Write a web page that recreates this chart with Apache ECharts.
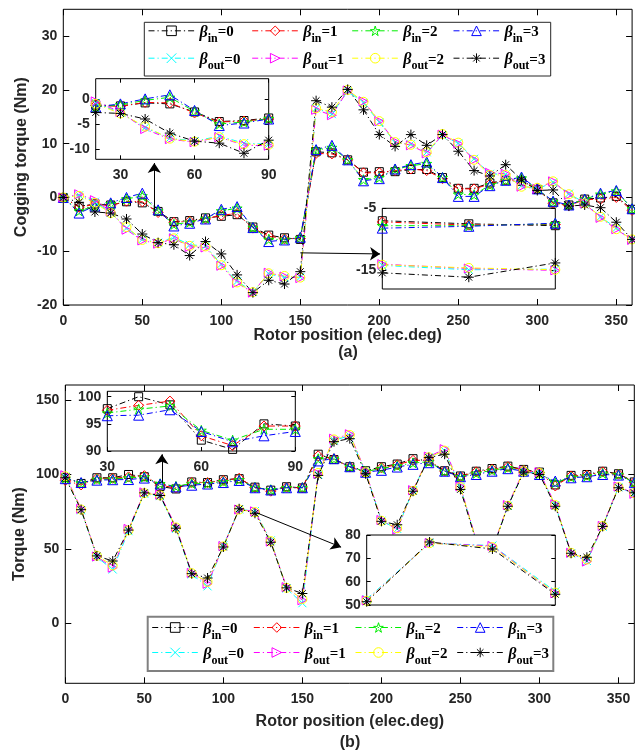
<!DOCTYPE html>
<html>
<head>
<meta charset="utf-8">
<script src="https://cdn.jsdelivr.net/npm/echarts@6/dist/echarts.min.js"></script>
<style>
  html, body { margin: 0; padding: 0; background: #fff; }
  #c { width: 635px; height: 752px; }
</style>
</head>
<body>
<div id="c"></div>
<script>
// Rotor positions (electrical degrees) shared by every curve
const positions = [0,10,20,30,40,50,60,70,80,90,100,110,120,130,140,150,160,170,180,190,200,210,220,230,240,250,260,270,280,290,300,310,320,330,340,350,360];

// (a) Cogging torque (Nm)
const cogIn0 = [0,-1.7,-1.2,-1.4,-0.8,-1.0,-2.6,-4.5,-4.3,-3.8,-3.5,-3.2,-5.5,-7.0,-7.5,-7.8,8.5,8.3,7.0,4.7,4.8,4.8,5.2,5.2,3.7,1.7,1.7,2.7,3.2,3.0,1.5,-1.0,-1.4,-0.3,-0.1,0.2,-2.2];
const cogIn1 = [0,-1.8,-1.3,-1.5,-0.7,-0.8,-2.8,-4.6,-4.4,-4.0,-3.3,-3.0,-5.7,-7.2,-7.7,-7.6,8.2,8.1,7.0,4.6,4.6,5.0,5.3,5.0,3.5,1.6,1.6,2.5,3.3,3.1,1.6,-1.1,-1.5,-0.4,-0.3,0.0,-2.4];
const cogIn2 = [0,-2.5,-1.6,-1.2,-0.3,0.3,-2.5,-5.0,-4.6,-3.9,-2.5,-2.0,-5.6,-7.8,-7.8,-7.5,8.8,9.3,7.0,3.3,3.7,5.2,5.9,6.3,3.7,0.6,0.5,2.3,3.2,3.6,1.6,-0.8,-1.4,-0.3,0.6,1.2,-2.1];
const cogIn3 = [0,-2.9,-1.6,-1.0,0.0,0.8,-2.3,-5.3,-4.8,-4.0,-2.2,-1.7,-5.6,-8.2,-7.9,-7.4,8.9,9.7,7.0,3.1,3.5,5.3,6.1,6.6,3.7,0.2,0.2,2.2,3.2,3.8,1.6,-0.7,-1.4,-0.3,0.8,1.3,-2.1];
const cogOut0 = [0,0.4,-0.8,-2.8,-5.7,-7.8,-8.4,-7.4,-8.8,-9.0,-12.4,-15.6,-17.5,-14.2,-14.9,-14.8,16.6,15.5,19.8,17.6,14.0,10.2,9.9,8.4,11.5,10.1,7.2,4.4,4.3,2.2,1.6,2.8,0.7,-1.0,-3.6,-5.7,-7.9];
const cogOut1 = [0,0.6,-0.5,-2.6,-6.0,-8.0,-8.6,-7.6,-9.2,-9.3,-12.7,-15.9,-17.7,-14.0,-14.7,-15.0,16.3,15.3,19.9,17.9,14.2,10.4,9.7,8.2,11.7,10.0,7.0,4.6,4.4,2.0,1.6,3.0,0.5,-1.1,-3.8,-5.9,-7.9];
const cogOut2 = [0,0.3,-1.0,-2.9,-5.5,-7.9,-8.5,-7.6,-9.0,-9.1,-12.6,-15.8,-17.6,-14.1,-14.6,-14.9,16.6,15.9,20.0,17.8,14.2,10.3,9.8,8.4,11.8,10.2,7.0,4.2,4.2,2.0,1.8,3.0,0.6,-1.1,-3.6,-5.9,-7.8];
const cogOut3 = [0,-0.9,-2.7,-2.9,-4.0,-6.8,-8.4,-8.8,-10.8,-8.2,-10.5,-14.4,-17.7,-15.4,-16.1,-13.8,18.0,16.8,20.1,16.3,11.7,9.5,11.7,9.7,11.7,8.6,5.0,4.0,6.1,3.3,1.3,1.4,-1.6,-1.4,-1.9,-4.6,-7.8];

// (b) Torque (Nm)
const torIn0 = [98,94,97.8,97.8,100,98.5,92,90.3,95,94.6,96.5,97.2,91.5,89.5,91.8,91,113.6,110,105.2,102.5,105.2,107,110.6,109,102.5,99,102.2,104,105.6,103.4,101.6,93,99.4,100,102.2,100.5,95];
const torIn1 = [96,93,97.3,97.5,98.4,99.2,92.8,91,94.6,94.6,96,97.5,91.2,88.8,91.5,91,112.5,110.5,105,101.5,104.5,106.5,109.5,109.5,102.3,98.8,101.8,103.5,105.2,103,101.2,92.3,99,99.6,101.8,100.2,94.8];
const torIn2 = [97.5,94.3,96.8,97,97.7,98.3,93.8,92,94,94,95.2,96.5,91.3,89.8,91.2,91.2,110.5,110.5,105.2,102,104,105.8,107.8,108.5,102.2,98.6,100.8,102.8,104.5,102.6,100.6,94.5,98.3,99,100.8,100,94.6];
const torIn3 = [97.2,94.6,96.2,96.5,96.6,97.6,93.6,91.7,92.8,93.6,94.6,96,91.1,89.6,91.1,91.1,109.1,110.6,105.2,101.5,102.8,105,106.8,107.9,102.2,98.5,100,102.2,103.9,102.2,100,95.6,97.8,98.5,100,99.6,94.5];
const torOut0 = [98.5,76,44.5,36.3,62,87,85.5,63.5,33,25,52.5,76.5,75.5,55.8,23.5,13.7,100,123,126,101.5,69,63.5,89.5,111.5,116,91.5,55.5,49,79,102,101,79.5,47,42,65,91.5,87];
const torOut1 = [99.5,77,45,37.5,63.5,88,86.5,65,34,26.7,52,76.5,75.3,55,24.5,15.7,100.5,124,127,102,69.5,63,89.5,112,117,92,56,49.5,79.5,102.5,101.5,80,47.5,41.6,65.5,92,87];
const torOut2 = [98.8,76.5,45.5,39,62.5,87.5,86,64.5,33.8,28,51.8,76.5,74.8,55.3,24,16.5,101,123.5,126.5,101.5,69,64,89,111.5,116,91.5,55.5,49.2,79,102,101,79.5,47.5,43,65.5,91.5,87.5];
const torOut3 = [97.8,76.4,45.4,42,62.7,87.7,85.9,64,33.5,30.6,51.4,77,74,54.6,24,20.2,99.4,122,124,100.5,68.6,66.3,88.8,111.3,113.6,90,55,49,78.7,101.6,100,78.7,47.2,44.5,65.2,91.1,87.7];

// Tick values
const xTicksMain = [0,50,100,150,200,250,300,350];
const yTicksCog = [-20,-10,0,10,20,30];
const yTicksTor = [0,50,100,150];
const xTicksZoomA = [30,60,90];
const yTicksZoomA = [-10,-5,0];
const yTicksZoomB = [-15,-5];
const xTicksZoomC = [30,60,90];
const yTicksZoomC = [90,95,100];
const yTicksZoomD = [50,60,70,80];

const seriesNames = ['β_in=0','β_in=1','β_in=2','β_in=3','β_out=0','β_out=1','β_out=2','β_out=3'];

// ---- styling ----
const DASH_DOT = [6, 3, 1.2, 3];
const STAR = 'path://M5,0L6.123,3.455L9.755,3.455L6.817,5.59L7.939,9.045L5,6.91L2.061,9.045L3.183,5.59L0.245,3.455L3.877,3.455Z';
const XMARK = 'path://M0,0L10,10M10,0L0,10';
const AST = 'path://M5,0L5,10M0,5L10,5M1.6,1.6L8.4,8.4M8.4,1.6L1.6,8.4';
const RTRI = 'path://M0,0L10,5L0,10Z';

const looks = [
  { color: '#000000', symbol: 'rect', size: 8 },
  { color: '#ff0000', symbol: 'diamond', size: 10 },
  { color: '#00ee00', symbol: STAR, size: 10 },
  { color: '#0000ff', symbol: 'triangle', size: 10 },
  { color: '#00ffff', symbol: XMARK, size: 8 },
  { color: '#ff00ff', symbol: RTRI, size: 9 },
  { color: '#ffff00', symbol: 'circle', size: 9 },
  { color: '#000000', symbol: AST, size: 10 }
];

const TICK_FONT = { fontFamily: '"Liberation Sans", Arial, sans-serif', fontWeight: 'bold', fontSize: 14, color: '#262626' };
const NAME_FONT = { fontFamily: '"Liberation Sans", Arial, sans-serif', fontWeight: 'bold', fontSize: 16, color: '#262626' };

// ---- grids: main (a), zoom A, zoom B, main (b), zoom C, zoom D ----
const grids = [
  { left: 63.3, top: 9.3, width: 568.8, height: 295.7, z: 0 },
  { left: 95.7, top: 78.7, width: 173, height: 80.6, z: 10 },
  { left: 382.3, top: 208.3, width: 173, height: 80.7, z: 10 },
  { left: 65.3, top: 385, width: 569, height: 298.3, z: 0 },
  { left: 107.3, top: 391.3, width: 188, height: 59.7, z: 10 },
  { left: 366.7, top: 535, width: 188.6, height: 70, z: 10 }
].map(g => Object.assign({
  show: true, backgroundColor: '#fff', borderColor: '#000', borderWidth: 1,
  containLabel: false, outerBoundsMode: 'none'
}, g));

const xAxes = [];
const yAxes = [];

function tickCfg(vals, len) {
  return { show: !!(vals && vals.length), inside: true, length: len, customValues: vals || [], lineStyle: { color: '#000', width: 1 } };
}
function labelCfg(vals, margin) {
  return vals ? Object.assign({ show: true, customValues: vals, margin: margin }, TICK_FONT) : { show: false };
}
function addAxes(g, xr, yr, xTicks, xLabels, yTicks, yLabels, len, z, names) {
  names = names || {};
  const common = { gridIndex: g, type: 'value', axisLine: { show: false, onZero: false }, splitLine: { show: false }, z: z };
  xAxes.push(Object.assign({}, common, {
    min: xr[0], max: xr[1], position: 'bottom',
    axisTick: tickCfg(xTicks, len), axisLabel: labelCfg(xLabels, 9),
    name: names.x || '', nameLocation: 'middle', nameGap: names.xGap || 30,
    nameTextStyle: NAME_FONT, nameMoveOverlap: false
  }));
  xAxes.push(Object.assign({}, common, {
    min: xr[0], max: xr[1], position: 'top',
    axisTick: tickCfg(xTicks, len), axisLabel: { show: false }
  }));
  yAxes.push(Object.assign({}, common, {
    min: yr[0], max: yr[1], position: 'left',
    axisTick: tickCfg(yTicks, len), axisLabel: labelCfg(yLabels, 6),
    name: names.y || '', nameLocation: 'middle', nameGap: names.yGap || 34,
    nameTextStyle: NAME_FONT, nameMoveOverlap: false
  }));
  yAxes.push(Object.assign({}, common, {
    min: yr[0], max: yr[1], position: 'right',
    axisTick: tickCfg(yTicks, len), axisLabel: { show: false }
  }));
}

addAxes(0, [0, 360], [-20, 35], xTicksMain, xTicksMain, yTicksCog, yTicksCog, 6, 0,
  { x: 'Rotor position (elec.deg)', xGap: 23, y: 'Cogging torque (Nm)', yGap: 34 });
addAxes(1, [20, 90], [-12, 4], xTicksZoomA, xTicksZoomA, yTicksZoomA, yTicksZoomA, 4, 11);
addAxes(2, [130, 150], [-18, -5], null, null, yTicksZoomB, yTicksZoomB, 4, 11);
addAxes(3, [0, 360], [-40, 160], xTicksMain, xTicksMain, yTicksTor, yTicksTor, 6, 0,
  { x: 'Rotor position (elec.deg)', xGap: 30, y: 'Torque (Nm)', yGap: 38 });
addAxes(4, [30, 90], [90, 101], xTicksZoomC, xTicksZoomC, yTicksZoomC, yTicksZoomC, 4, 11);
addAxes(5, [100, 130], [50, 80], null, null, yTicksZoomD, yTicksZoomD, 4, 11);

const cogging = [cogIn0, cogIn1, cogIn2, cogIn3, cogOut0, cogOut1, cogOut2, cogOut3];
const torque = [torIn0, torIn1, torIn2, torIn3, torOut0, torOut1, torOut2, torOut3];

const series = [];
function addCurves(g, sets, which, xr) {
  which.forEach(k => {
    const lk = looks[k];
    const data = [];
    positions.forEach((p, i) => { if (p >= xr[0] && p <= xr[1]) data.push([p, sets[k][i]]); });
    series.push({
      type: 'line', name: seriesNames[k], xAxisIndex: 2 * g, yAxisIndex: 2 * g,
      data: data, symbol: lk.symbol, symbolSize: lk.size, showSymbol: true, showAllSymbol: true,
      z: grids[g].z + 2,
      lineStyle: { color: lk.color, width: 1, type: DASH_DOT },
      itemStyle: { color: 'rgba(255,255,255,0)', borderColor: lk.color, borderWidth: 1 },
      emphasis: { disabled: true }, silent: true
    });
  });
}
const ALL = [0,1,2,3,4,5,6,7];
addCurves(0, cogging, ALL, [0, 360]);
addCurves(1, cogging, ALL, [20, 90]);
addCurves(2, cogging, ALL, [130, 150]);
addCurves(3, torque, ALL, [0, 360]);
addCurves(4, torque, [0,1,2,3], [30, 90]);
addCurves(5, torque, [4,5,6,7], [100, 130]);

// Pointer arrows from the curves to the zoomed views
series.push({
  type: 'lines', coordinateSystem: 'cartesian2d', xAxisIndex: 0, yAxisIndex: 0, z: 15, silent: true,
  symbol: ['none', 'arrow'], symbolSize: 10,
  lineStyle: { color: '#000', width: 1, opacity: 1, curveness: 0 },
  data: [ { coords: [[57.6, -2.6], [57.6, 6.4]] }, { coords: [[150, -10.3], [200.5, -10.5]] } ]
});
series.push({
  type: 'lines', coordinateSystem: 'cartesian2d', xAxisIndex: 6, yAxisIndex: 6, z: 15, silent: true,
  symbol: ['none', 'arrow'], symbolSize: 10,
  lineStyle: { color: '#000', width: 1, opacity: 1, curveness: 0 },
  data: [ { coords: [[61.1, 94.5], [61.1, 113.5]] }, { coords: [[121.4, 74.2], [174.5, 51.3]] } ]
});

// Legend entries: one per series, laid out in a 4 x 2 grid inside a framed box
const legendRich = {
  b: { fontFamily: '"Liberation Serif", "Times New Roman", serif', fontStyle: 'italic', fontWeight: 'bold', fontSize: 16, lineHeight: 18, padding: [3, 0, 0, 0], verticalAlign: 'top', color: '#000' },
  s: { fontFamily: '"Liberation Serif", "Times New Roman", serif', fontWeight: 'bold', fontSize: 12, lineHeight: 14, padding: [11, 0, 0, 0], verticalAlign: 'top', color: '#000' },
  n: { fontFamily: '"Liberation Serif", "Times New Roman", serif', fontWeight: 'bold', fontSize: 15, lineHeight: 18, padding: [3, 0, 0, 0], verticalAlign: 'top', color: '#000' }
};
function legendLabel(name) {
  const m = name.match(/β_(in|out)=(\d)/);
  return '{b|β}{s|' + m[1] + '}{n|=' + m[2] + '}';
}
const legends = [];
function addLegendBlock(colX, rowY) {
  seriesNames.forEach((nm, k) => {
    const lk = looks[k];
    legends.push({
      data: [nm], left: colX[k % 4], top: rowY[Math.floor(k / 4)] - 12.5,
      orient: 'horizontal', itemWidth: 46, itemHeight: 12, itemGap: 0, padding: 0,
      selectedMode: false, z: 21,
      formatter: legendLabel,
      textStyle: { rich: legendRich, padding: [0, 0, 0, 0] },
      itemStyle: { color: 'rgba(255,255,255,0)', borderColor: lk.color, borderWidth: 1 },
      lineStyle: { color: lk.color, width: 1, type: DASH_DOT, opacity: 1 }
    });
  });
}
addLegendBlock([148, 251.7, 351.7, 453], [34.3, 61.7]);
addLegendBlock([151.7, 253.3, 355, 456.7], [631, 656]);

const option = {
  animation: false,
  backgroundColor: '#fff',
  grid: grids,
  xAxis: xAxes,
  yAxis: yAxes,
  legend: legends,
  series: series,
  graphic: { elements: [
    { type: 'rect', z: 20, silent: true, shape: { x: 144.3, y: 22.3, width: 406.4, height: 53.7 }, style: { fill: '#fff', stroke: '#262626', lineWidth: 1 } },
    { type: 'rect', z: 20, silent: true, shape: { x: 147.7, y: 616.7, width: 405.6, height: 54.3 }, style: { fill: '#fff', stroke: '#808080', lineWidth: 2 } },
    { type: 'text', z: 20, x: 348, y: 353, style: { text: '(a)', fill: '#262626', font: 'bold 16px "Liberation Sans", Arial, sans-serif', align: 'center', verticalAlign: 'middle' } },
    { type: 'text', z: 20, x: 350, y: 742.5, style: { text: '(b)', fill: '#262626', font: 'bold 16px "Liberation Sans", Arial, sans-serif', align: 'center', verticalAlign: 'middle' } }
  ] }
};

const chart = echarts.init(document.getElementById('c'), null, { renderer: 'canvas' });
chart.setOption(option);
</script>
</body>
</html>
